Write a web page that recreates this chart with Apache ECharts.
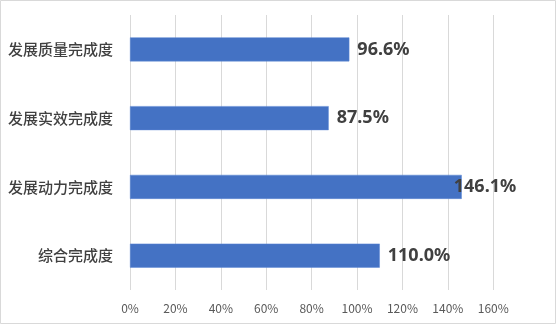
<!DOCTYPE html>
<html>
<head>
<meta charset="utf-8">
<script src="https://cdn.jsdelivr.net/npm/echarts@6/dist/echarts.min.js"></script>
<style>
html,body{margin:0;padding:0;background:#fff;}
#c{width:556px;height:324px;}
</style>
</head>
<body>
<div id="c"></div>
<script>
var categories = ['综合完成度', '发展动力完成度', '发展实效完成度', '发展质量完成度'];
var values = [110.0, 146.1, 87.5, 96.6];
var tickMin = 0, tickMax = 160, tickStep = 20;

var chart = echarts.init(document.getElementById('c'), null, {renderer: 'canvas'});
var seriesData = values.map(function (v, i) {
  var item = {value: v};
  if (v > 140) {
    item.label = {offset: [-16, 0]};
  }
  return item;
});
chart.setOption({
  animation: false,
  backgroundColor: '#ffffff',
  graphic: [{
    type: 'rect',
    shape: {x: 0.5, y: 0.5, width: 555, height: 323},
    style: {fill: 'none', stroke: '#d9d9d9', lineWidth: 1},
    silent: true
  }],
  grid: {left: 130, right: 62.7, top: 15, bottom: 34},
  xAxis: {
    type: 'value',
    min: tickMin, max: tickMax, interval: tickStep,
    axisLine: {show: false},
    axisTick: {show: false},
    splitLine: {show: true, lineStyle: {color: '#d9d9d9', width: 1}},
    axisLabel: {
      formatter: '{value}%',
      color: '#595959',
      fontSize: 12,
      fontFamily: 'Noto Sans CJK SC',
      margin: 12
    }
  },
  yAxis: {
    type: 'category',
    data: categories,
    axisLine: {show: false},
    axisTick: {show: false},
    axisLabel: {
      color: '#404040',
      fontSize: 15,
      fontWeight: 500,
      fontFamily: 'Noto Sans CJK SC',
      margin: 17
    }
  },
  series: [{
    type: 'bar',
    data: seriesData,
    barWidth: 24,
    itemStyle: {color: '#4472C4', borderColor: '#5b86d4', borderWidth: 0.5},
    label: {
      show: true,
      position: 'right',
      distance: 8,
      formatter: function (p) { return p.value.toFixed(1) + '%'; },
      color: '#404040',
      fontSize: 18,
      fontWeight: 'bold',
      fontFamily: 'Noto Sans'
    }
  }]
});
</script>
</body>
</html>
